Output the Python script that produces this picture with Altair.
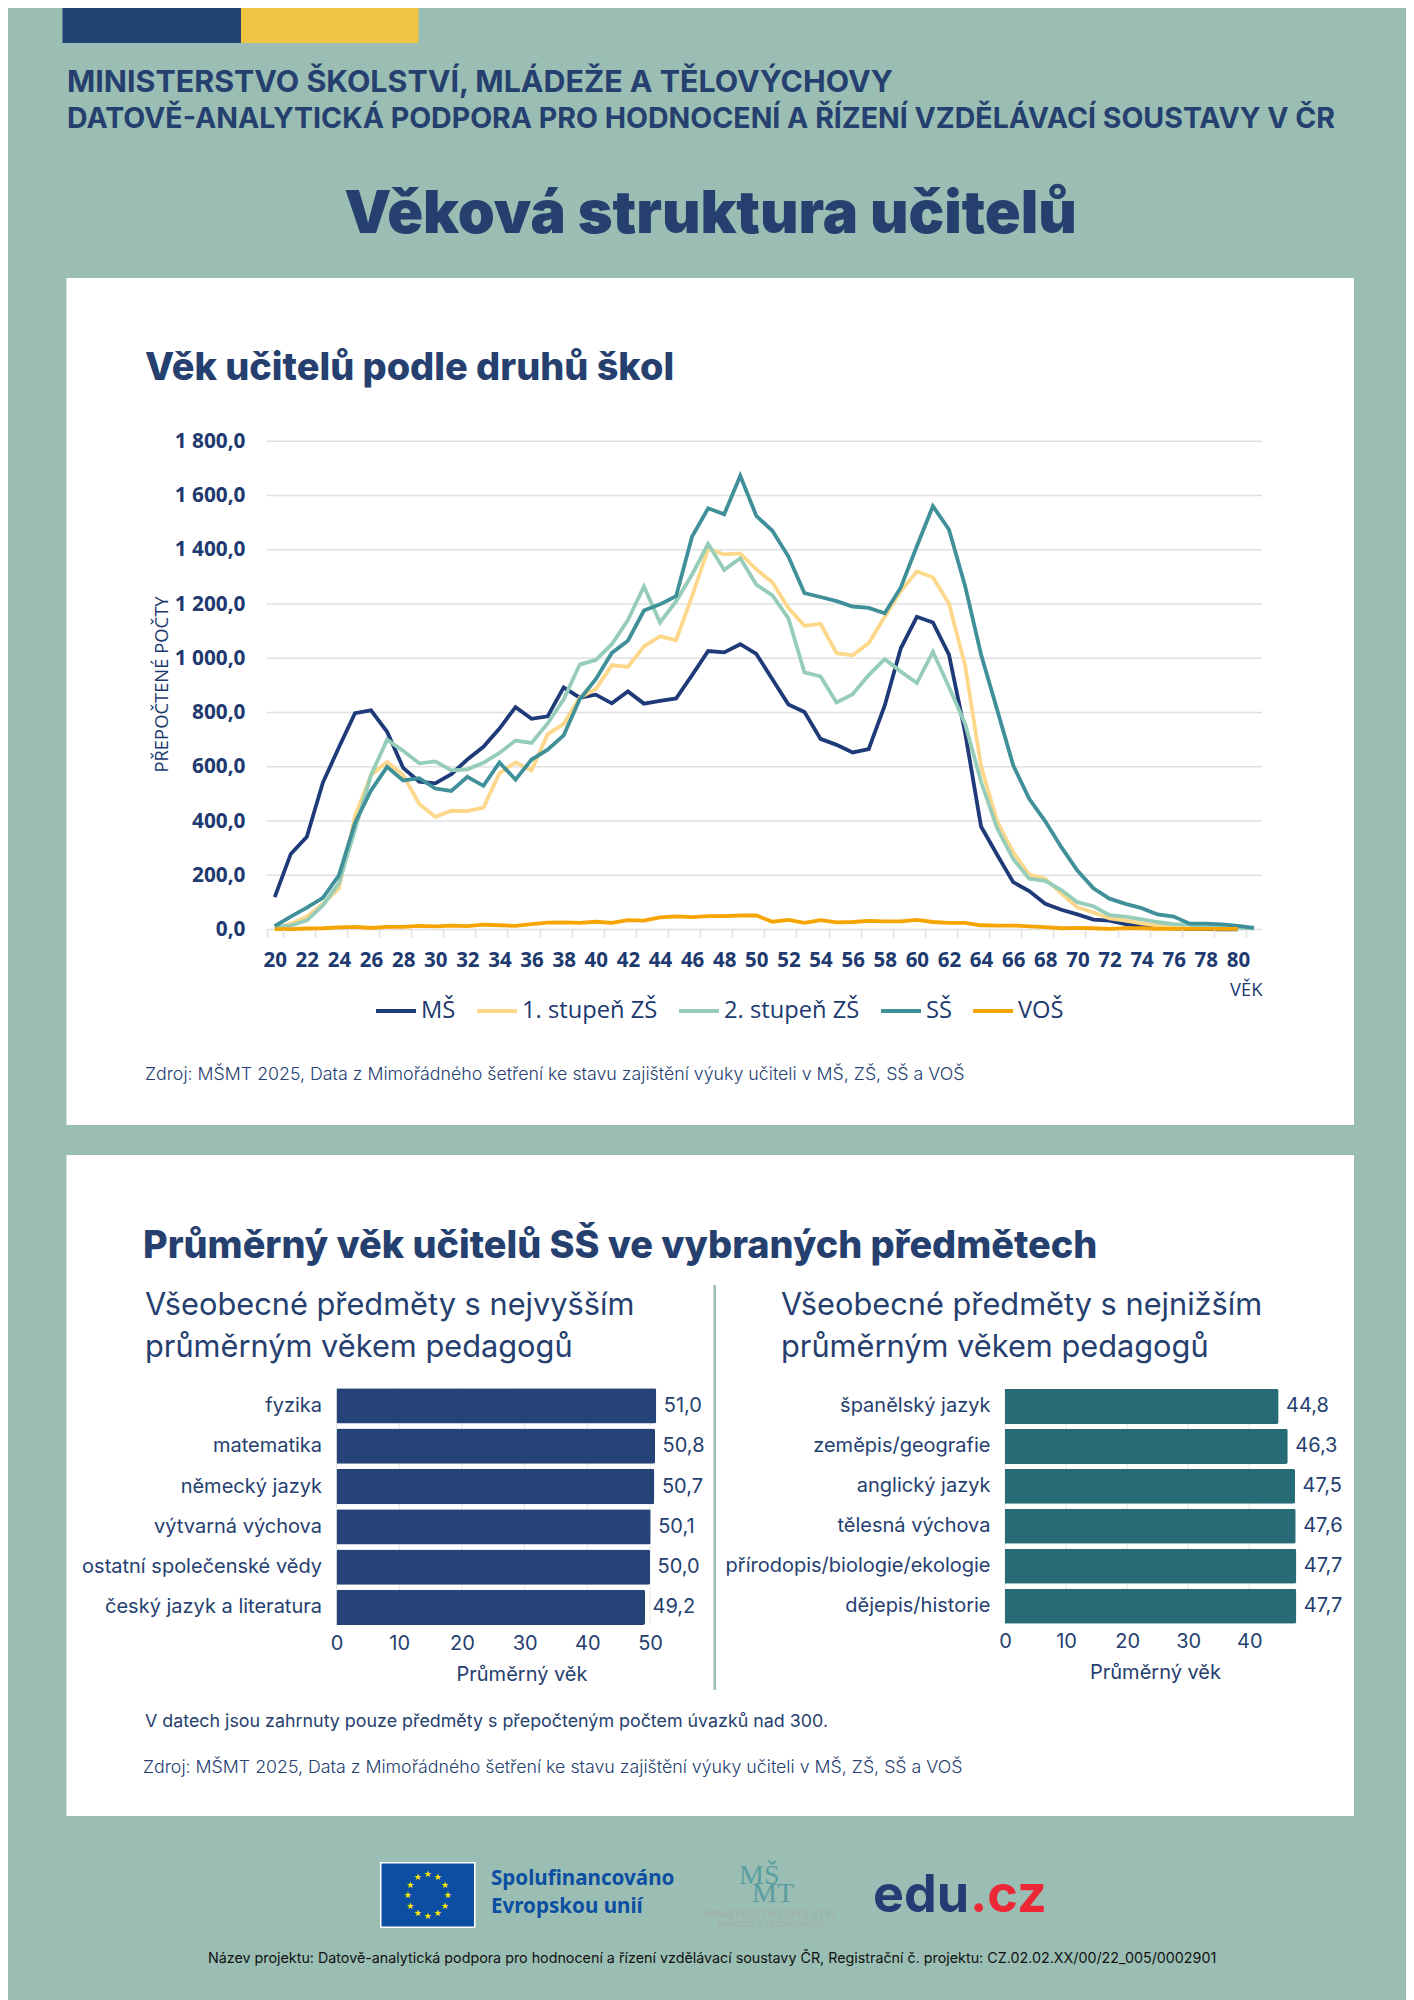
import math
import altair as alt
import pandas as pd

ages = list(range(20, 82))
ms = [120,279,342,542,672,798,808,729,596,545,539,573,627,674,741,820,777,786,893,855,866,834,878,833,843,852,938,1027,1022,1052,1016,923,830,802,703,681,653,665,826,1037,1153,1132,1014,728,380,276,175,142,95,73,56,37,33,20,13,8,5,3,2,1,1,None]
st1 = [3,22,47,95,152,418,570,618,570,463,416,438,437,450,577,616,587,720,758,855,887,975,968,1044,1081,1067,1229,1404,1383,1387,1328,1280,1185,1120,1127,1019,1011,1056,1153,1248,1320,1299,1201,976,602,399,285,203,188,133,82,63,41,33,23,15,10,8,6,5,4,None]
st2 = [10,15,34,89,171,368,570,700,659,613,620,587,591,615,651,697,688,760,849,977,994,1052,1141,1265,1132,1210,1309,1422,1326,1369,1272,1232,1147,948,933,837,868,938,997,951,909,1024,894,760,545,374,260,188,180,146,101,86,53,48,38,28,20,18,13,9,6,5]
ss = [13,48,81,117,200,393,513,600,550,558,520,511,563,530,616,553,627,663,716,849,923,1020,1065,1176,1199,1229,1449,1553,1531,1673,1525,1470,1375,1240,1226,1211,1191,1186,1166,1261,1413,1561,1475,1268,1014,811,606,482,399,304,218,152,114,95,79,56,48,22,22,19,14,6]
vos = [2,2,4,5,8,10,6,10,10,14,12,15,13,18,16,14,20,26,27,25,29,25,35,33,45,49,46,50,50,52,52,29,36,25,35,27,28,32,30,30,36,28,25,25,16,15,15,12,9,5,6,5,3,5,5,3,3,3,3,3,3,None]
series_names = ["MŠ", "1. stupeň ZŠ", "2. stupeň ZŠ", "SŠ", "VOŠ"]
series_values = [ms, st1, st2, ss, vos]
series_colors = ["#1F3A78", "#FDD78A", "#96CDB9", "#3F9098", "#F5A400"]
y_ticks = [0, 200, 400, 600, 800, 1000, 1200, 1400, 1600, 1800]
x_ticks = list(range(20, 82, 2))

left_subjects = ["fyzika", "matematika", "německý jazyk", "výtvarná výchova", "ostatní společenské vědy", "český jazyk a literatura"]
left_values = [51.0, 50.8, 50.7, 50.1, 50.0, 49.2]
right_subjects = ["španělský jazyk", "zeměpis/geografie", "anglický jazyk", "tělesná výchova", "přírodopis/biologie/ekologie", "dějepis/historie"]
right_values = [44.8, 46.3, 47.5, 47.6, 47.7, 47.7]

BG = "#9ABEB3"
NAVY = "#25406F"
INK = "#20396F"
GRID = "#E0E0E0"
SANS = "Inter"
CHART = "Open Sans"
H = 2000
one = pd.DataFrame({"k": [0]})


def box(x, x2, y, y2, color, **kw):
    return alt.Chart(one).mark_rect(color=color, **kw).encode(
        x=alt.value(x), x2=alt.value(x2), y=alt.value(y), y2=alt.value(y2))


def label(s, x, y, size, color=NAVY, weight=400, font=SANS, align="left", **kw):
    return alt.Chart(one).mark_text(text=s, align=align, baseline="alphabetic", fontSize=size,
                                    font=font, fontWeight=weight, color=color, **kw).encode(
        x=alt.value(x), y=alt.value(y))


chrome = [
    box(62.5, 241, 0, 43, "#1F4373"),
    box(241, 418.5, 0, 43, "#EFC443"),
    box(66.5, 1354, 278, 1125, "#FFFFFF"),
    box(66.5, 1354, 1155, 1816, "#FFFFFF"),
    box(713.5, 716, 1285, 1690, BG),
    label("MINISTERSTVO ŠKOLSTVÍ, MLÁDEŽE A TĚLOVÝCHOVY", 67, 92, 30.4, weight=700),
    label("DATOVĚ-ANALYTICKÁ PODPORA PRO HODNOCENÍ A ŘÍZENÍ VZDĚLÁVACÍ SOUSTAVY V ČR", 67, 128, 28.5, weight=700),
    label("Věková struktura učitelů", 710.5, 233, 59.3, weight=900, align="center"),
    label("Věk učitelů podle druhů škol", 145, 380, 37.9, weight=800),
    label("Zdroj: MŠMT 2025, Data z Mimořádného šetření ke stavu zajištění výuky učiteli v MŠ, ZŠ, SŠ a VOŠ", 145, 1080, 17.8, weight=300),
    label("Průměrný věk učitelů SŠ ve vybraných předmětech", 143, 1258, 37.85, weight=800),
    label("Všeobecné předměty s nejvyšším", 145, 1315, 30.75),
    label("průměrným věkem pedagogů", 145, 1357, 30.75),
    label("Všeobecné předměty s nejnižším", 781, 1315, 30.75),
    label("průměrným věkem pedagogů", 781, 1357, 30.75),
    label("V datech jsou zahrnuty pouze předměty s přepočteným počtem úvazků nad 300.", 145, 1727, 17.85),
    label("Zdroj: MŠMT 2025, Data z Mimořádného šetření ke stavu zajištění výuky učiteli v MŠ, ZŠ, SŠ a VOŠ", 143, 1773, 17.8, weight=300),
    # footer
    box(380, 475.5, 1862, 1928, "#FFFFFF"),
    box(381.5, 474, 1863.5, 1926.5, "#0B4EA2"),
    label("Spolufinancováno", 491, 1885, 20.6, color="#0B4EA2", weight=700, font="Noto Sans"),
    label("Evropskou unií", 491, 1913, 20.6, color="#0B4EA2", weight=700, font="Noto Sans"),
    label("MŠ", 739, 1884, 28, color="#5B9DA0", font="Liberation Serif"),
    label("MT", 752, 1902, 28, color="#5B9DA0", font="Liberation Serif"),
    label("MINISTERSTVO ŠKOLSTVÍ,", 771, 1918, 10.3, color="#A3ABA9", align="center"),
    label("MLÁDEŽE A TĚLOVÝCHOVY", 771, 1926.5, 8, color="#A3ABA9", align="center"),
    label("edu", 873, 1912, 52, color="#243C73", weight=700),
    label(".cz", 970, 1912, 52, color="#EE2737", weight=700),
    label("Název projektu: Datově-analytická podpora pro hodnocení a řízení vzdělávací soustavy ČR, Registrační č. projektu: CZ.02.02.XX/00/22_005/0002901", 208, 1963, 14.3, color="#111111"),
]

stars = [
    alt.Chart(one).mark_text(text="★", fontSize=9, color="#FFE600", align="center", baseline="middle", font="DejaVu Sans").encode(
        x=alt.value(427.7 + 20 * math.sin(i * math.pi / 6)), y=alt.value(1895 - 21 * math.cos(i * math.pi / 6)))
    for i in range(12)
]

# ---------- line chart ----------
rows = []
for name, vals in zip(series_names, series_values):
    for a, v in zip(ages, vals):
        if v is not None:
            rows.append({"age": a, "value": v, "series": name})
lines_df = pd.DataFrame(rows)

x_line = alt.Scale(domain=ages, range=[266.7, 1262], paddingInner=0, paddingOuter=0, align=0.5)
y_line = alt.Scale(domain=[0, 1800], range=[929.6, 441.3], nice=False, zero=True)

grid = alt.Chart(pd.DataFrame({"tick": y_ticks})).mark_rule(color=GRID, strokeWidth=1.5).encode(
    y=alt.Y("tick:Q", scale=y_line, axis=alt.Axis(
        orient="left", values=y_ticks, offset=-266.7, domain=False, ticks=False, grid=False, zindex=1,
        labelFont=CHART, labelFontSize=20.8, labelFontWeight=700, labelColor=INK, labelPadding=21.7,
        labelExpr="replace(replace(format(datum.value, ',.1f'), ',', ' '), '.', ',')",
        title="PŘEPOČTENÉ POČTY", titleFont=CHART, titleFontSize=18.4, titleFontWeight=400, titleColor=INK,
        titleX=-105, titleY=684, titleAngle=270, titleAlign="center", titleBaseline="middle")),
    x=alt.value(266.7), x2=alt.value(1262))

lines = alt.Chart(lines_df).mark_line(strokeWidth=3.8, strokeJoin="miter", interpolate="linear").encode(
    x=alt.X("age:O", scale=x_line, axis=alt.Axis(
        orient="bottom", values=x_ticks, offset=-(H - 929.6), domain=False, ticks=True, tickBand="extent",
        tickColor=GRID, tickSize=7.5, tickWidth=1.5, grid=False, zindex=1, labelAngle=0, labelOverlap=False,
        labelFont=CHART, labelFontSize=20.5, labelFontWeight=700, labelColor=INK, labelPadding=13,
        title="VĚK", titleFont=CHART, titleFontSize=18.4, titleFontWeight=400, titleColor=INK,
        titleX=1262, titleY=65.4, titleAlign="right", titleBaseline="alphabetic")),
    y=alt.Y("value:Q", scale=y_line),
    color=alt.Color("series:N", scale=alt.Scale(domain=series_names, range=series_colors), legend=alt.Legend(
        orient="none", legendX=374, legendY=989, direction="horizontal", columns=5, gridAlign="none", title=None,
        symbolType="stroke", symbolSize=1600, symbolStrokeWidth=4, labelFont=CHART, labelFontSize=23.7,
        labelColor=INK, labelOffset=3, columnPadding=13, padding=0)),
    detail="series:N",
)
line_panel = alt.layer(grid, lines)


# ---------- bar panels ----------
def bar_panel(subjects, values, color, x0, x1, vmax, y0, y1, ticks, title_x):
    df = pd.DataFrame({"subject": subjects, "value": values,
                       "text": [f"{v:.1f}".replace(".", ",") for v in values]})
    x = alt.Scale(domain=[0, vmax], range=[x0, x1], nice=False, zero=True)
    y = alt.Scale(domain=subjects, range=[y0, y1], paddingInner=0.124, paddingOuter=0)
    g = alt.Chart(pd.DataFrame({"tick": ticks})).mark_rule(color="#E6E6E6", strokeWidth=1).encode(
        x=alt.X("tick:Q", scale=x, axis=alt.Axis(
            orient="bottom", values=ticks, offset=-(H - y1), domain=False, ticks=False, grid=False, zindex=1,
            labelFont=SANS, labelFontSize=20, labelColor=NAVY, labelPadding=8,
            labelAngle=0, format="d", labelFlush=False, labelOverlap=False,
            title="Průměrný věk", titleFont=SANS, titleFontSize=20, titleFontWeight=400, titleColor=NAVY,
            titleX=title_x, titleY=55, titleAlign="center", titleBaseline="alphabetic")),
        y=alt.value(y0), y2=alt.value(y1))
    b = alt.Chart(df).mark_bar(color=color, cornerRadiusTopRight=2, cornerRadiusBottomRight=2).encode(
        x=alt.X("value:Q", scale=x),
        y=alt.Y("subject:N", scale=y, sort=subjects, axis=alt.Axis(
            orient="left", offset=-x0, domain=False, ticks=False, grid=False, zindex=1, title=None,
            labelFont=SANS, labelFontSize=20, labelColor=NAVY, labelPadding=15, labelLimit=400)),
    )
    t = alt.Chart(df).mark_text(align="left", baseline="middle", dx=7.5, font=SANS, fontSize=20, color=NAVY).encode(
        x=alt.X("value:Q", scale=x),
        y=alt.Y("subject:N", scale=y, sort=subjects),
        text="text:N",
    )
    return alt.layer(g, b, t)


left_panel = bar_panel(left_subjects, left_values, "#254377", 336.5, 656.3, 51, 1388.3, 1625, [0, 10, 20, 30, 40, 50], 521.5)
right_panel = bar_panel(right_subjects, right_values, "#266B75", 1005, 1296.3, 47.7, 1389, 1623.7, [0, 10, 20, 30, 40], 1155)

chart = alt.layer(*chrome, *stars, line_panel, left_panel, right_panel).resolve_scale(
    x="independent", y="independent", color="independent"
).properties(
    width=1414, height=H, background=BG,
    padding={"left": -8, "right": -8, "top": -8, "bottom": 0},
    autosize=alt.AutoSizeParams(type="none"),
).configure_view(stroke=None)

chart.save("out.html", embed_options={"renderer": "svg", "actions": False})
